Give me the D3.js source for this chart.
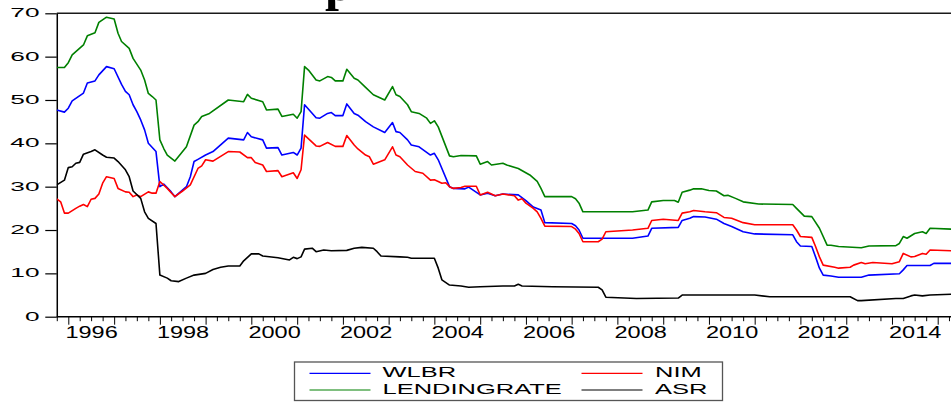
<!DOCTYPE html>
<html><head><meta charset="utf-8">
<script src="https://cdn.jsdelivr.net/npm/d3@7"></script>
<style>
html,body{margin:0;padding:0;background:#fff;overflow:hidden}
svg{display:block}
text{font-family:"Liberation Sans",Arial,Helvetica,sans-serif;fill:#000}
</style></head><body>
<svg id="chart" width="951" height="402"></svg>
<script>
// ---------------- DATA ----------------
const yTickValues = [0, 10, 20, 30, 40, 50, 60, 70];
const xLabelYears = [1996, 1998, 2000, 2002, 2004, 2006, 2008, 2010, 2012, 2014];
const seriesNames = ["WLBR", "NIM", "LENDINGRATE", "ASR"];

const wlbrDates = ["1995-10","1995-12","1996-01","1996-02","1996-05","1996-06","1996-08","1996-09","1996-11","1997-01","1997-03","1997-04","1997-05","1997-06","1997-07","1997-08","1997-09","1997-10","1997-12","1998-01","1998-02","1998-04","1998-05","1998-08","1998-09","1998-10","1998-11","1999-01","1999-03","1999-07","1999-11","1999-12","2000-01","2000-04","2000-05","2000-08","2000-09","2000-12","2001-01","2001-02","2001-03","2001-06","2001-07","2001-09","2001-10","2001-11","2002-01","2002-02","2002-04","2002-05","2002-07","2002-09","2002-12","2003-02","2003-03","2003-04","2003-06","2003-07","2003-09","2003-12","2004-01","2004-02","2004-05","2004-06","2004-09","2004-10","2005-01","2005-03","2005-05","2005-07","2005-11","2006-01","2006-03","2006-05","2006-06","2007-01","2007-02","2007-03","2007-04","2008-05","2008-09","2008-10","2009-05","2009-06","2009-08","2009-09","2009-12","2010-03","2010-05","2010-07","2010-10","2011-01","2011-11","2011-12","2012-01","2012-04","2012-05","2012-06","2012-07","2012-09","2012-11","2013-05","2013-07","2014-03","2014-04","2014-05","2014-11","2014-12","2015-05"];
const wlbrValues = [47.7,47.2,48.1,49.8,51.6,53.9,54.4,55.8,57.7,57.2,53.6,52.0,51.2,48.9,47.3,45.4,43.1,40.0,38.1,30.0,30.6,28.8,27.7,30.0,32.3,35.8,36.3,37.3,38.1,41.2,40.8,42.5,41.5,40.8,38.9,39.0,37.3,37.9,37.3,38.9,48.9,45.9,45.8,46.9,47.1,46.4,46.4,49.1,46.9,46.5,45.0,43.8,42.5,44.8,42.7,42.5,40.8,39.6,39.2,37.3,37.7,36.2,30.0,29.6,29.5,29.9,28.1,28.5,27.9,28.3,28.1,26.8,25.3,24.6,21.7,21.5,21.0,20.0,18.1,18.1,18.6,20.4,20.6,22.2,22.7,23.1,23.0,22.5,21.5,20.8,19.6,19.1,18.9,17.3,16.3,16.2,13.8,11.2,9.6,9.4,9.1,9.1,9.6,9.9,10.8,11.8,11.8,12.3,12.3];

const nimDates = ["1995-10","1995-11","1995-12","1996-01","1996-03","1996-04","1996-05","1996-06","1996-07","1996-08","1996-09","1996-10","1996-11","1997-01","1997-02","1997-04","1997-05","1997-06","1997-07","1997-08","1997-10","1997-11","1997-12","1998-01","1998-03","1998-04","1998-05","1998-07","1998-09","1998-11","1998-12","1999-01","1999-03","1999-07","1999-10","1999-12","2000-01","2000-02","2000-04","2000-05","2000-08","2000-09","2000-12","2001-01","2001-02","2001-03","2001-06","2001-07","2001-09","2001-11","2002-01","2002-02","2002-04","2002-05","2002-07","2002-08","2002-09","2002-12","2003-02","2003-03","2003-04","2003-06","2003-08","2003-10","2003-12","2004-01","2004-02","2004-03","2004-04","2004-05","2004-06","2004-08","2004-09","2004-12","2005-01","2005-03","2005-05","2005-07","2005-10","2005-11","2005-12","2006-01","2006-03","2006-04","2006-05","2006-06","2007-01","2007-02","2007-03","2007-04","2007-08","2007-09","2007-10","2008-05","2008-09","2008-10","2009-01","2009-05","2009-06","2009-08","2009-09","2009-12","2010-03","2010-05","2010-07","2010-10","2011-01","2011-11","2011-12","2012-01","2012-04","2012-05","2012-06","2012-07","2012-10","2012-11","2013-02","2013-03","2013-05","2013-06","2013-08","2014-01","2014-03","2014-04","2014-06","2014-07","2014-09","2014-10","2014-11","2015-05"];
const nimValues = [27.2,26.5,23.9,23.9,25.0,25.5,25.9,25.4,27.1,27.3,28.3,30.8,32.3,31.9,29.6,28.8,28.7,27.7,28.1,27.7,28.8,28.5,28.5,31.2,29.6,28.6,27.7,29.0,30.4,34.2,34.8,36.2,35.9,38.1,38.0,36.7,36.7,35.6,35.0,33.5,33.7,32.3,33.2,31.9,33.9,41.9,39.4,39.3,40.2,39.3,39.3,41.8,39.6,38.7,37.3,36.9,35.2,36.2,39.2,37.3,36.9,35.0,33.5,33.1,31.5,31.6,31.2,30.8,30.9,30.0,29.6,29.8,30.1,30.1,28.1,28.7,27.9,28.3,27.9,26.9,27.2,26.2,25.0,24.2,22.7,20.9,20.8,20.2,19.2,17.3,17.3,17.9,19.6,20.0,20.4,22.2,22.5,22.2,23.9,24.2,24.5,24.2,24.0,22.9,22.7,21.7,21.2,21.2,20.0,18.5,18.3,16.2,13.8,11.9,11.4,11.2,11.4,11.9,12.5,12.2,12.5,12.2,12.7,14.6,13.8,13.9,14.6,14.4,15.4,15.2];

const lendDates = ["1995-10","1995-12","1996-01","1996-02","1996-05","1996-06","1996-08","1996-09","1996-11","1997-01","1997-02","1997-03","1997-05","1997-06","1997-08","1997-09","1997-10","1997-11","1997-12","1998-01","1998-02","1998-03","1998-05","1998-08","1998-10","1998-11","1998-12","1999-02","1999-07","1999-11","1999-12","2000-01","2000-04","2000-05","2000-08","2000-09","2000-12","2001-01","2001-02","2001-03","2001-04","2001-06","2001-07","2001-09","2001-10","2001-11","2002-01","2002-02","2002-04","2002-05","2002-07","2002-09","2002-12","2003-02","2003-03","2003-04","2003-06","2003-07","2003-09","2003-11","2003-12","2004-01","2004-02","2004-05","2004-06","2004-08","2004-12","2005-01","2005-03","2005-04","2005-07","2005-08","2005-11","2006-02","2006-04","2006-05","2006-06","2007-01","2007-02","2007-03","2007-04","2008-05","2008-09","2008-10","2009-01","2009-04","2009-05","2009-06","2009-08","2009-09","2009-11","2010-01","2010-03","2010-05","2010-06","2010-08","2010-10","2011-02","2011-11","2011-12","2012-02","2012-04","2012-06","2012-08","2012-09","2012-11","2013-05","2013-07","2014-02","2014-03","2014-04","2014-05","2014-07","2014-09","2014-10","2014-11","2015-05"];
const lendValues = [57.5,57.5,58.6,60.4,62.7,64.8,65.5,67.9,69.1,68.7,65.4,63.5,61.9,59.6,56.9,54.6,51.5,50.8,50.0,40.8,38.8,37.3,35.9,39.2,44.2,45.0,46.2,46.9,50.0,49.6,51.3,50.4,49.6,47.7,47.9,46.2,46.7,45.8,47.3,57.7,56.9,54.6,54.4,55.4,55.2,54.4,54.4,57.1,55.0,54.6,52.9,51.2,50.0,53.1,51.2,50.8,48.9,47.3,46.9,45.8,44.6,45.2,43.8,37.1,36.9,37.2,37.1,35.2,35.8,35.0,35.4,35.0,34.2,32.7,31.2,29.6,27.7,27.7,27.2,26.2,24.2,24.2,24.6,26.5,26.8,26.8,26.4,28.7,29.2,29.5,29.5,29.1,29.0,27.9,28.0,27.3,26.5,26.0,25.9,25.0,23.2,23.1,20.4,16.5,16.5,16.2,15.9,16.3,16.4,16.9,18.5,18.1,19.2,19.6,19.2,20.4,20.2];

const asrDates = ["1995-10","1995-12","1996-01","1996-02","1996-03","1996-04","1996-05","1996-07","1996-08","1996-10","1996-11","1997-01","1997-02","1997-04","1997-05","1997-06","1997-08","1997-09","1997-10","1997-12","1998-01","1998-03","1998-04","1998-06","1998-08","1998-10","1999-01","1999-03","1999-05","1999-07","1999-10","1999-11","2000-01","2000-03","2000-04","2000-08","2000-11","2000-12","2001-01","2001-02","2001-03","2001-05","2001-06","2001-08","2001-10","2002-02","2002-04","2002-06","2002-09","2002-10","2002-11","2003-04","2003-06","2003-07","2004-01","2004-02","2004-03","2004-05","2004-08","2004-10","2005-01","2005-07","2005-10","2005-11","2005-12","2006-08","2007-08","2007-09","2007-10","2008-06","2009-05","2009-06","2011-01","2011-05","2013-02","2013-04","2013-05","2014-02","2014-04","2014-06","2014-07","2014-09","2014-11","2015-05"];
const asrValues = [30.4,31.5,34.4,34.6,35.4,35.6,37.5,38.1,38.5,37.3,36.8,36.6,35.8,33.9,32.3,29.0,27.3,24.2,22.7,21.5,9.6,8.9,8.3,8.1,8.9,9.6,10.0,10.9,11.4,11.7,11.7,12.9,14.5,14.5,14.0,13.6,13.1,13.7,13.4,13.8,15.6,15.8,15.0,15.4,15.2,15.3,15.8,16.0,15.8,15.0,14.0,13.8,13.7,13.5,13.5,11.2,8.5,7.3,7.1,6.8,6.9,7.1,7.1,7.5,7.1,6.9,6.8,6.2,4.5,4.2,4.3,5.0,5.0,4.6,4.6,3.7,3.7,4.2,4.2,4.8,5.0,4.8,5.0,5.2];

// ---------------- CHART ----------------
const W = 951, H = 402;
const svg = d3.select("#chart");
const parse = d3.timeParse("%Y-%m");

const x = d3.scaleTime()
  .domain([new Date(1996, 0, 1), new Date(2015, 0, 1)])
  .range([68.3, 937.7]);
const y = d3.scaleLinear().domain([0, 70]).range([316.7, 13.3]);
const xStart = new Date(1995, 9, 1);
const plotLeft = x(xStart);

const series = [
  { name: seriesNames[0], dates: wlbrDates, values: wlbrValues, color: "#0000ff" },
  { name: seriesNames[1], dates: nimDates, values: nimValues, color: "#ff0000" },
  { name: seriesNames[2], dates: lendDates, values: lendValues, color: "#008000" },
  { name: seriesNames[3], dates: asrDates, values: asrValues, color: "#000000" }
];

// partially visible title (only a descender shows at the very top)
svg.append("text")
  .attr("x", 325).attr("y", -0.5)
  .style("font-family", '"Liberation Serif","Times New Roman",serif')
  .style("font-weight", "bold").style("font-size", "50px")
  .text("p");

svg.append("clipPath").attr("id", "plotClip")
  .append("rect").attr("x", plotLeft).attr("y", 0).attr("width", W - plotLeft).attr("height", 330);

// top frame line
svg.append("line")
  .attr("x1", plotLeft).attr("x2", W).attr("y1", y(70)).attr("y2", y(70))
  .attr("stroke", "#1a1a1a").attr("stroke-width", 1.5);

// Y axis
const yAxis = svg.append("g")
  .attr("transform", `translate(${plotLeft},0)`)
  .call(d3.axisLeft(y).tickValues(yTickValues).tickSize(11.5).tickSizeOuter(0));
yAxis.select(".domain").attr("stroke", "#000").attr("stroke-width", 1.5);
yAxis.selectAll(".tick line").attr("stroke", "#000").attr("stroke-width", 1.2);
yAxis.selectAll(".tick text")
  .attr("x", 0).attr("dy", null)
  .attr("transform", `translate(${39.5 - plotLeft},3.4) scale(2.1,1)`)
  .attr("text-anchor", "end")
  .style("font-size", "12.5px").attr("fill", "#000");

// X axis ticks (quarterly, with taller yearly ticks)
const quarterTicks = d3.timeMonth.every(3).range(xStart, new Date(2015, 6, 1));
const xAxis = svg.append("g")
  .attr("transform", `translate(0,${y(0)})`)
  .call(d3.axisBottom(x).tickValues(quarterTicks).tickSize(4.5).tickFormat(""));
xAxis.select(".domain").remove();
xAxis.selectAll(".tick line")
  .attr("stroke", "#000").attr("stroke-width", 1)
  .attr("y2", d => d.getMonth() === 0 ? 8 : 4.5);
xAxis.append("line")
  .attr("x1", plotLeft).attr("x2", W).attr("y1", 0).attr("y2", 0)
  .attr("stroke", "#000").attr("stroke-width", 1.5);

// X axis labels, centred on each labelled year
const xLabels = svg.append("g")
  .attr("transform", `translate(0,${y(0)})`)
  .call(d3.axisBottom(x)
    .tickValues(xLabelYears.map(yr => new Date(yr, 6, 1)))
    .tickSize(0).tickFormat(d3.timeFormat("%Y")));
xLabels.select(".domain").remove();
xLabels.selectAll(".tick text")
  .attr("y", 0).attr("dy", null)
  .attr("transform", "translate(0,21.6) scale(1.47,1)")
  .style("font-size", "16px").attr("fill", "#000");

// Lines
const line = d3.line()
  .x(d => x(d.date))
  .y(d => y(d.value));
const lineG = svg.append("g").attr("clip-path", "url(#plotClip)");
series.forEach(s => {
  const pts = s.dates.map((d, i) => ({ date: parse(d), value: s.values[i] }));
  lineG.append("path")
    .datum(pts)
    .attr("fill", "none")
    .attr("stroke", s.color)
    .attr("stroke-width", 1.6)
    .attr("stroke-linejoin", "round")
    .attr("d", line);
});

// Legend
const lg = svg.append("g");
lg.append("rect")
  .attr("x", 294.5).attr("y", 362).attr("width", 428).attr("height", 38.5)
  .attr("fill", "#fff").attr("stroke", "#555").attr("stroke-width", 1.3);
const legendPos = [
  { lx1: 309.5, lx2: 370.5, ly: 373.3, tx: 382.5, ty: 376.8 },
  { lx1: 581.5, lx2: 642.5, ly: 373.3, tx: 655, ty: 376.8 },
  { lx1: 309.5, lx2: 370.5, ly: 390, tx: 382.5, ty: 394 },
  { lx1: 581.5, lx2: 642.5, ly: 390, tx: 655, ty: 394 }
];
series.forEach((s, i) => {
  const p = legendPos[i];
  lg.append("line")
    .attr("x1", p.lx1).attr("x2", p.lx2).attr("y1", p.ly).attr("y2", p.ly)
    .attr("stroke", s.color).attr("stroke-width", 1.2);
  lg.append("text")
    .attr("transform", `translate(${p.tx},${p.ty}) scale(1.7,1)`)
    .style("font-size", "15px")
    .text(s.name);
});
</script>
</body></html>
